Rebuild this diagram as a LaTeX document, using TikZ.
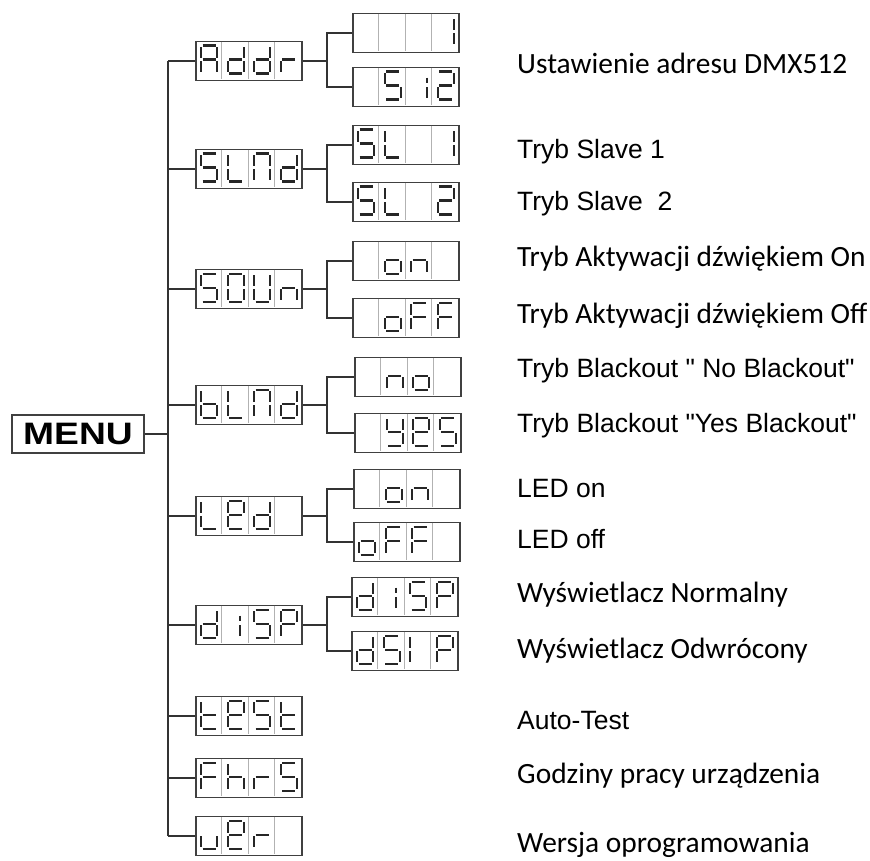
\documentclass[tikz,border=0pt]{standalone}
\usepackage{graphicx}
\usepackage{fontspec}
\setmainfont{Liberation Sans}
\newfontfamily\arial{Liberation Sans}
\newfontfamily\calib{Carlito}
\usepackage{tikz}
\usetikzlibrary{positioning}

% one segment of a 7-segment digit, in cell coordinates
\newcommand{\drawseg}[1]{%
  \if#1a\draw[segline] (7.5,5) -- (20.5,5);\fi
  \if#1b\draw[segline] (22,6.5) -- (22,17.5);\fi
  \if#1c\draw[segline] (22,20.5) -- (22,31.5);\fi
  \if#1d\draw[segline] (7.5,33) -- (20.5,33);\fi
  \if#1e\draw[segline] (6,20.5) -- (6,31.5);\fi
  \if#1f\draw[segline] (6,6.5) -- (6,17.5);\fi
  \if#1g\draw[segline] (7.5,19) -- (20.5,19);\fi
  \if#1p\draw[segline] (22,11) -- (22,16);\fi
  \if#1j\draw[segline] (18,20.5) -- (18,31.5);\fi
  \if#1k\draw[segline] (18,11) -- (18,16);\fi
}

% a 4-cell display: name, centre, list of segment lists
\newcommand{\lcd}[3]{%
  \node[lcd] (#1) at (#2) {};
  \begin{scope}[shift={(#1.north west)}]
    \foreach \k in {1,2,3}
      \draw[cellsep] (\k*26.5,1) -- (\k*26.5,38);
    \foreach \c [count=\i from 0] in {#3} {
      \begin{scope}[xshift=\i*26.5pt]
        \foreach \s in \c {\drawseg{\s}}
      \end{scope}
    }
  \end{scope}}

\begin{document}
\begin{tikzpicture}[
  x=1pt, y=-1pt,
  wire/.style={draw=black!80, line width=1.5pt},
  lcd/.style={draw=black!75, line width=1.6pt, minimum width=106pt,
              minimum height=39pt, inner sep=0pt},
  cellsep/.style={draw=black!30, line width=0.8pt},
  segline/.style={draw=black!85, line width=2.4pt},
  desc/.style={anchor=west, inner sep=0pt, font=\arial\fontsize{26.5}{30}\selectfont},
  descc/.style={anchor=west, inner sep=0pt, font=\calib\fontsize{29.4}{33}\selectfont},
  menubox/.style={draw=black!75, line width=1.6pt, minimum width=132pt,
                  minimum height=38pt, inner sep=0pt}
]
  \useasboundingbox (0,0) rectangle (870,861);

  \node[menubox] (menu) at (78,434)
    {\scalebox{1.2}[1]{\bfseries\fontsize{31}{34}\selectfont MENU}};

  % main menu
  \lcd{addr}{249,61}{{a,b,c,e,f,g},{b,c,d,e,g},{b,c,d,e,g},{e,g}}
  \lcd{slnd}{249,169}{{a,c,d,f,g},{d,e,f},{a,b,c,e,f},{b,c,d,e,g}}
  \lcd{soun}{249,289}{{a,c,d,f,g},{a,b,c,d,e,f},{b,c,d,e,f},{c,e,g}}
  \lcd{blnd}{249,405}{{c,d,e,f,g},{d,e,f},{a,b,c,e,f},{b,c,d,e,g}}
  \lcd{led}{249,516}{{d,e,f},{a,b,d,e,f,g},{b,c,d,e,g},{x}}
  \lcd{disp}{249,625}{{b,c,d,e,g},{j,k},{a,c,d,f,g},{a,b,e,f,g}}
  \lcd{test}{249,716}{{d,e,f,g},{a,b,d,e,f,g},{a,c,d,f,g},{d,e,f,g}}
  \lcd{fhrs}{249,778}{{a,e,f,g},{c,e,f,g},{e,g},{a,c,d,f,g}}
  \lcd{ver}{249,836}{{c,d,e},{a,b,d,e,f,g},{e,g},{x}}

  % sub menus
  \lcd{addrA}{406,33}{{x},{x},{x},{b,c}}
  \lcd{addrB}{406,87}{{x},{a,c,d,f,g},{c,p},{a,b,d,e,g}}
  \lcd{slA}{406,145}{{a,c,d,f,g},{d,e,f},{x},{b,c}}
  \lcd{slB}{406,202}{{a,c,d,f,g},{d,e,f},{x},{a,b,d,e,g}}
  \lcd{sndOn}{406,261}{{x},{c,d,e,g},{c,e,g},{x}}
  \lcd{sndOff}{406,318}{{x},{c,d,e,g},{a,e,f,g},{a,e,f,g}}
  \lcd{blNo}{408,377}{{x},{c,e,g},{c,d,e,g},{x}}
  \lcd{blYes}{408,433}{{x},{b,c,d,f,g},{a,b,d,e,f,g},{a,c,d,f,g}}
  \lcd{ledOn}{407,489}{{x},{c,d,e,g},{c,e,g},{x}}
  \lcd{ledOff}{407,542}{{c,d,e,g},{a,e,f,g},{a,e,f,g},{x}}
  \lcd{dispN}{405,597}{{b,c,d,e,g},{j,k},{a,c,d,f,g},{a,b,e,f,g}}
  \lcd{dispR}{405,651}{{b,c,d,e,g},{a,c,d,f,g},{e,f},{a,b,e,f,g}}

  % connectors
  \coordinate (trunk) at (168,0);
  \coordinate (fork) at (327,0);
  \draw[wire] (menu.east) -- (menu.east -| trunk);
  \draw[wire] (addr.west -| trunk) -- (ver.west -| trunk);
  \foreach \n in {addr,slnd,soun,blnd,led,disp,test,fhrs,ver}
    \draw[wire] (\n.west -| trunk) -- (\n.west);
  \foreach \p/\a/\b in {addr/addrA/addrB, slnd/slA/slB, soun/sndOn/sndOff,
                        blnd/blNo/blYes, led/ledOn/ledOff, disp/dispN/dispR} {
    \draw[wire] (\p.east) -- (\p.east -| fork);
    \draw[wire] (\a.west) -- (\a.west -| fork) -- (\b.west -| fork) -- (\b.west);
  }

  % descriptions
  \node[descc] (tAddr) at (517,63) {Ustawienie adresu DMX512};
  \node[desc] (tSl1) at (517,152) {Tryb Slave 1};
  \node[desc] (tSl2) at (517,204) {Tryb Slave~ 2};
  \node[descc] (tSndOn) at (517,259) {Tryb Aktywacji dźwiękiem On};
  \node[descc] (tSndOff) at (517,316) {Tryb Aktywacji dźwiękiem Off};
  \node[desc] (tBlNo) at (517,371) {Tryb Blackout " No Blackout"};
  \node[desc] (tBlYes) at (517,426) {Tryb Blackout "Yes Blackout"};
  \node[desc] (tLedOn) at (517,489) {LED on};
  \node[desc] (tLedOff) at (517,539) {LED off};
  \node[descc] (tDispN) at (517,595) {Wyświetlacz Normalny};
  \node[descc] (tDispR) at (517,651) {Wyświetlacz Odwrócony};
  \node[desc] (tTest) at (517,721) {Auto-Test};
  \node[descc] (tHrs) at (517,776) {Godziny pracy urządzenia};
  \node[descc] (tVer) at (517,845) {Wersja oprogramowania};
\end{tikzpicture}
\end{document}
